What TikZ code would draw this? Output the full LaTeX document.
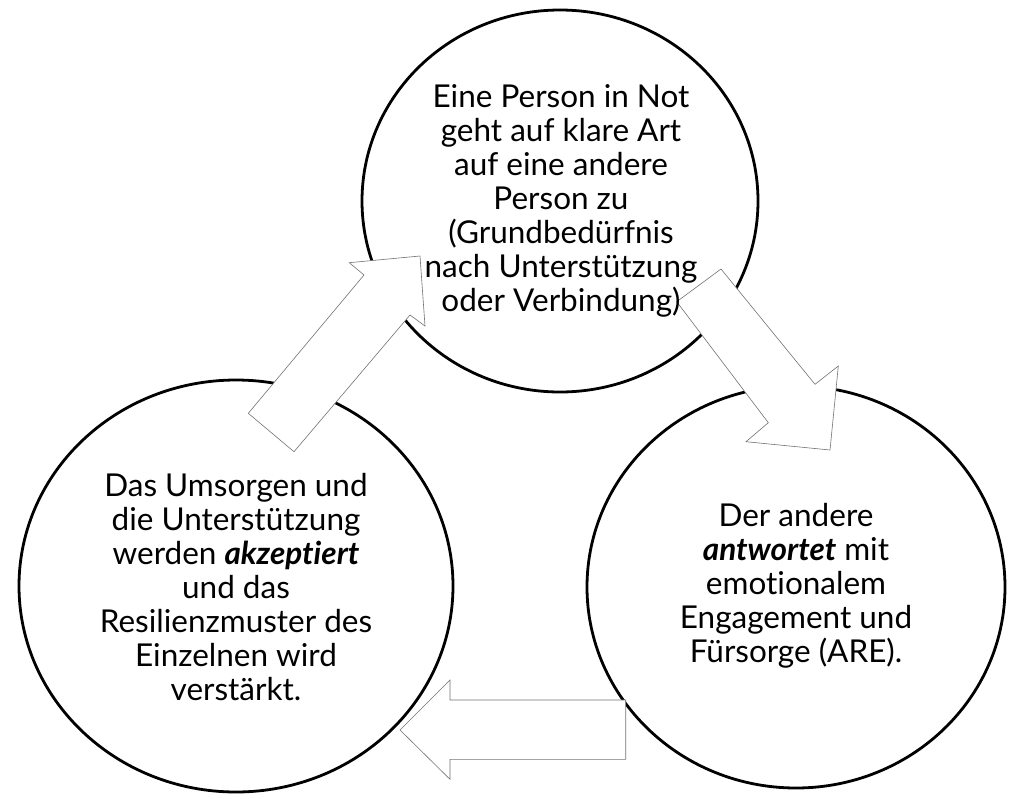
\documentclass[tikz,border=0pt]{standalone}
\usepackage{fontspec}
\setmainfont{Lato}[Ligatures=NoCommon]
\usetikzlibrary{shapes.geometric}
\begin{document}
\begin{tikzpicture}[x=1pt,y=-1pt,
  ring/.style={draw=black, line width=2.8pt, ellipse, inner sep=0pt, fill=white},
  blockarrow/.style={draw=black!55, line width=0.6pt, fill=white, line join=miter},
  label/.style={align=center, font=\fontsize{31.5}{34}\selectfont, inner sep=0pt, text=black}]
\useasboundingbox (0,0) rectangle (1022,798);
% circles
\node[ring, minimum width=396pt, minimum height=382pt] (top) at (560,201) {};
\node[ring, minimum width=434pt, minimum height=412pt] (left) at (236,586) {};
\node[ring, minimum width=418pt, minimum height=402pt] (right) at (796,587) {};
% block arrows
\coordinate (a1) at (248.3,413.3);
\coordinate (a2) at (364,275);
\coordinate (a3) at (349.3,262.7);
\coordinate (a4) at (420,256);
\coordinate (a5) at (425,326);
\coordinate (a6) at (410,315);
\coordinate (a7) at (294,451.7);
\draw[blockarrow] (a1) -- (a2) -- (a3) -- (a4) -- (a5) -- (a6) -- (a7) -- cycle;
\coordinate (b1) at (721,269);
\coordinate (b2) at (676.7,301.7);
\coordinate (b3) at (768.3,422.7);
\coordinate (b4) at (746,441.7);
\coordinate (b5) at (830,450);
\coordinate (b6) at (838.3,366);
\coordinate (b7) at (815,384.3);
\draw[blockarrow] (b1) -- (b2) -- (b3) -- (b4) -- (b5) -- (b6) -- (b7) -- cycle;
\coordinate (c1) at (400,730);
\coordinate (c2) at (450,680);
\coordinate (c3) at (450,700);
\coordinate (c4) at (625.7,700);
\coordinate (c5) at (625.7,759.3);
\coordinate (c6) at (450,759.3);
\coordinate (c7) at (450,779.3);
\draw[blockarrow] (c1) -- (c2) -- (c3) -- (c4) -- (c5) -- (c6) -- (c7) -- cycle;
% texts
\node[label] (toptext) at (561,201) {Eine Person in Not\\geht auf klare Art\\auf eine andere\\Person zu\\(Grundbedürfnis\\nach Unterstützung\\oder Verbindung)};
\node[label] (lefttext) at (236,587) {Das Umsorgen und\\die Unterstützung\\werden \textbf{\textit{akzeptiert}}\\und das\\Resilienzmuster des\\Einzelnen wird\\verstärkt.};
\node[label] (righttext) at (796,586) {Der andere\\\textbf{\textit{antwortet}} mit\\emotionalem\\Engagement und\\Fürsorge (ARE).};
\end{tikzpicture}
\end{document}
